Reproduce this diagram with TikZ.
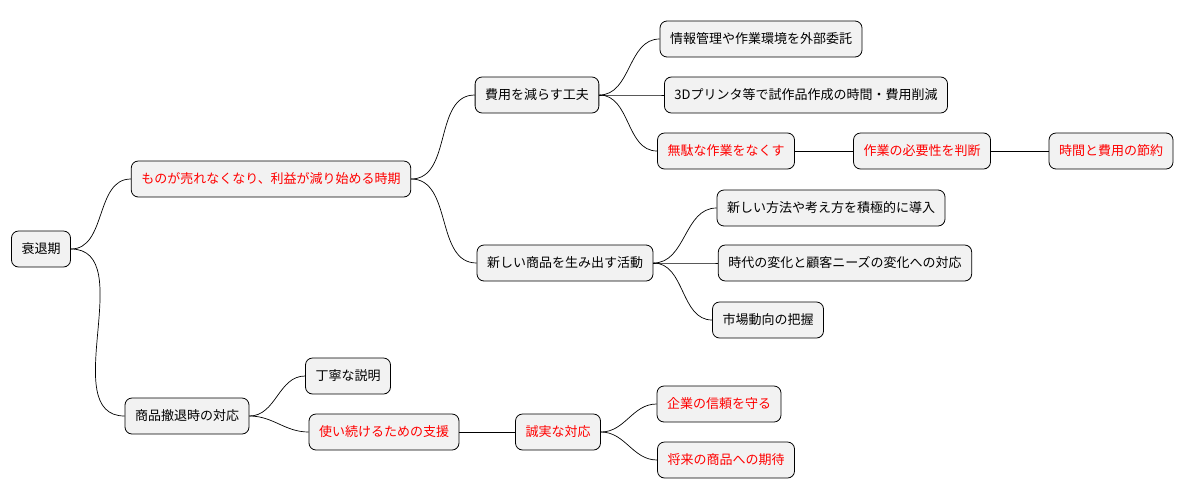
\documentclass[tikz,border=0pt]{standalone}
\usepackage{fontspec}
\setmainfont{Noto Sans CJK JP}
\begin{document}
\begin{tikzpicture}[x=1pt,y=-1pt,
  n/.style={draw=black,line width=0.8pt,fill=gray!10,rounded corners=7pt,minimum height=36pt,inner xsep=10pt,font=\fontsize{13}{15}\selectfont},
  r/.style={n,text=red},
  e/.style={draw=black,line width=0.7pt}]
\useasboundingbox (0,0) rectangle (1188,499);
\node[n] (root) at (41,249) {衰退期};
\node[r] (a) at (271,179) {ものが売れなくなり、利益が減り始める時期};
\node[n] (b) at (187,416) {商品撤退時の対応};
\node[n] (a1) at (537,95) {費用を減らす工夫};
\node[n] (a2) at (565,263) {新しい商品を生み出す活動};
\node[n] (a11) at (761,39) {情報管理や作業環境を外部委託};
\node[n] (a12) at (806,95) {3Dプリンタ等で試作品作成の時間・費用削減};
\node[r] (a13) at (726,151) {無駄な作業をなくす};
\node[r] (a131) at (922,151) {作業の必要性を判断};
\node[r] (a1311) at (1111,151) {時間と費用の節約};
\node[n] (a21) at (831,208) {新しい方法や考え方を積極的に導入};
\node[n] (a22) at (845,263) {時代の変化と顧客ニーズの変化への対応};
\node[n] (a23) at (768,320) {市場動向の把握};
\node[n] (b1) at (348,376) {丁寧な説明};
\node[r] (b2) at (384,432) {使い続けるための支援};
\node[r] (b21) at (558,432) {誠実な対応};
\node[r] (b211) at (719,404) {企業の信頼を守る};
\node[r] (b212) at (726,460) {将来の商品への期待};
\foreach \p/\c in {root/a,root/b,a/a1,a/a2,a1/a11,a1/a12,a1/a13,a2/a21,a2/a22,a2/a23,b/b1,b/b2,b21/b211,b21/b212}
  \draw[e] (\p.east) to[out=0,in=180] (\c.west);
\draw[e] (a13.east) -- (a131.west);
\draw[e] (a131.east) -- (a1311.west);
\draw[e] (b2.east) -- (b21.west);
\end{tikzpicture}
\end{document}
